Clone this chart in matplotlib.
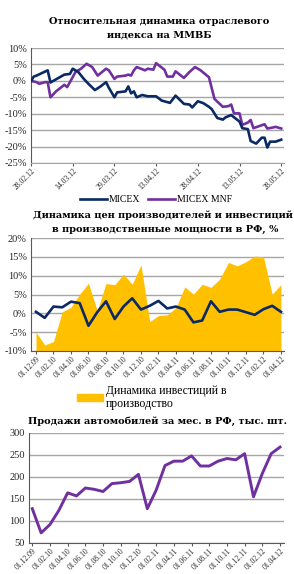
import datetime as dt
import matplotlib
matplotlib.use('Agg')
import matplotlib.pyplot as plt
import matplotlib.dates as mdates
from matplotlib.patches import Patch
from matplotlib.lines import Line2D

NAVY = '#0b2a63'
PURPLE = '#7030a0'
YELLOW = '#ffc000'
GRID = '#a6a6a6'
SPINE = '#595959'
TXT = '#262626'

plt.rcParams['font.family'] = ['Liberation Serif', 'DejaVu Serif']

# --- panel 1: MICEX vs MICEX MNF, % change since 28.02.12 ---
base_date = dt.date(2012, 2, 28)
micex_days = [0, 1, 2, 6, 7, 12, 14, 15, 17, 19, 21, 23, 25, 27, 28, 30, 31, 34, 35, 36,
              37, 38, 40, 42, 45, 47, 50, 52, 55, 57, 58, 60, 62, 64, 65, 67, 69, 70, 72,
              75, 76, 78, 79, 81, 83, 84, 85, 86, 88, 90]
micex_vals = [0, 1.3, 1.6, 3.2, -0.5, 1.9, 2.1, 3.7, 2.7, 0.6, -1.2, -2.8, -1.7, -0.4, -2.1,
              -5.0, -3.5, -3.2, -1.7, -3.8, -3.2, -5.0, -4.3, -4.7, -4.7, -6.0, -6.7, -4.5,
              -7.0, -7.2, -8.1, -6.2, -6.8, -7.9, -8.6, -11.3, -11.8, -11.1, -10.4, -12.4,
              -14.4, -14.7, -18.3, -19.1, -17.3, -17.3, -20.3, -18.5, -18.5, -17.9]
mnf_days = [0, 2, 3, 5, 6, 7, 9, 12, 13, 14, 16, 18, 20, 22, 24, 27, 28, 30, 31, 34, 35,
            36, 37, 38, 41, 42, 44, 45, 46, 48, 49, 51, 52, 55, 57, 59, 61, 64, 66, 69,
            71, 72, 73, 75, 76, 78, 79, 80, 84, 85, 87, 88, 90]
mnf_vals = [0, -0.4, -0.9, -0.4, -0.4, -5.0, -3.2, -1.2, -1.9, -0.4, 2.7, 3.7, 5.2, 4.2,
            1.6, 3.7, 3.2, 0.6, 1.3, 1.6, 1.9, 1.6, 3.2, 4.2, 3.2, 3.7, 3.4, 5.4, 4.7,
            3.4, 1.3, 1.3, 2.9, 0.9, 2.7, 4.2, 3.2, 1.1, -5.5, -7.9, -7.7, -7.2, -9.9,
            -9.9, -13.4, -12.7, -11.9, -14.4, -13.2, -14.5, -14.2, -14.0, -14.5]

# --- panel 2: producer prices vs investment, % ---
month_labels = ['01.12.09', '01.02.10', '01.04.10', '01.06.10', '01.08.10', '01.10.10',
                '01.12.10', '01.02.11', '01.04.11', '01.06.11', '01.08.11', '01.10.11',
                '01.12.11', '01.02.12', '01.04.12']
invest = [-5.0, -8.4, -7.5, 0.4, 1.6, 5.1, 8.0, 0.7, 7.9, 7.6, 10.4, 7.7, 12.9, -2.2,
          -0.6, -0.4, 1.5, 7.0, 5.1, 7.7, 6.9, 9.1, 13.5, 12.6, 13.7, 15.2, 15.0, 5.1, 7.6]
prices = [0.4, -1.2, 1.8, 1.6, 3.1, 2.7, -3.3, 0.3, 3.2, -1.5, 1.8, 4.0, 1.0, 2.0, 3.3,
          1.3, 1.8, 1.0, -2.4, -1.9, 3.2, 0.4, 1.0, 1.0, 0.3, -0.4, 1.1, 2.0, 0.4]

# --- panel 3: car sales per month, thousand units ---
car_sales = [128, 73, 92, 124, 164, 157, 175, 172, 167, 185, 187, 190, 206, 128, 170, 226,
             236, 236, 248, 225, 225, 236, 242, 239, 253, 155, 208, 253, 268]

W, H = 294, 574
fig = plt.figure(figsize=(W / 100, H / 100), dpi=100)
fig.patch.set_facecolor('white')


def box(left, top, right, bottom):
    return [left / W, 1 - bottom / H, (right - left) / W, (bottom - top) / H]


def style(ax):
    ax.set_facecolor('white')
    ax.grid(axis='y', color=GRID, lw=1.0)
    ax.set_axisbelow(True)
    for s in ('top', 'right'):
        ax.spines[s].set_visible(False)
    ax.spines['left'].set_color(SPINE)
    ax.spines['bottom'].set_color(SPINE)
    ax.tick_params(axis='y', length=0, labelsize=7.5, colors=TXT, pad=3)
    ax.tick_params(axis='x', length=2, labelsize=5.5, colors=TXT, pad=1, color=SPINE)


title_kw = dict(ha='center', va='center', fontsize=7, fontweight='bold',
                family=['DejaVu Serif'], color='black')

# panel 1
ax1 = fig.add_axes(box(31, 48, 284, 163))
style(ax1)
d1 = [base_date + dt.timedelta(days=d) for d in micex_days]
d2 = [base_date + dt.timedelta(days=d) for d in mnf_days]
ax1.plot(d2, mnf_vals, color=PURPLE, lw=1.9, label='MICEX MNF', zorder=3)
ax1.plot(d1, micex_vals, color=NAVY, lw=1.9, label='MICEX', zorder=4)
ax1.set_ylim(-25, 10)
ax1.set_yticks(range(-25, 11, 5))
ax1.set_yticklabels([f'{v}%' for v in range(-25, 11, 5)])
ax1.set_xlim(base_date, base_date + dt.timedelta(days=91))
ax1.set_xticks([base_date + dt.timedelta(days=15 * k) for k in range(7)])
ax1.xaxis.set_major_formatter(mdates.DateFormatter('%d.%m.%y'))
plt.setp(ax1.get_xticklabels(), rotation=45, ha='right', rotation_mode='anchor')
ax1.spines['bottom'].set_color(GRID)
fig.text(159 / W, 1 - 21 / H, 'Относительная динамика отраслевого', **title_kw)
fig.text(159 / W, 1 - 35 / H, 'индекса на ММВБ', **title_kw)
handles = [Line2D([], [], color=NAVY, lw=1.9), Line2D([], [], color=PURPLE, lw=1.9)]
fig.legend(handles, ['MICEX', 'MICEX MNF'], loc='center', ncol=2,
           bbox_to_anchor=(156 / W, 1 - 200 / H), frameon=False, fontsize=7,
           handlelength=2.8, handletextpad=0.2, columnspacing=0.8)

# panel 2
ax2 = fig.add_axes(box(31, 238, 284, 351))
style(ax2)
x2 = list(range(len(invest)))
ax2.fill_between(x2, invest, -10, color=YELLOW, lw=0, zorder=2)
ax2.plot(x2, prices, color=NAVY, lw=1.9, zorder=3)
ax2.set_ylim(-10, 20)
ax2.set_yticks(range(-10, 21, 5))
ax2.set_yticklabels([f'{v}%' for v in range(-10, 21, 5)])
ax2.set_xlim(-0.57, 28.35)
ax2.set_xticks(range(0, 29, 2))
ax2.set_xticklabels(month_labels, rotation=45, ha='right', rotation_mode='anchor')
fig.text(163 / W, 1 - 215 / H, 'Динамика цен производителей и инвестиций', **title_kw)
fig.text(165 / W, 1 - 229 / H, 'в производственные мощности в РФ, %', **title_kw)
fig.legend([Patch(color=YELLOW)], ['Динамика инвестиций в\nпроизводство'], loc='upper left',
           bbox_to_anchor=(66 / W, 1 - 374 / H), frameon=False, fontsize=8.5,
           handlelength=2.2, handleheight=0.55, handletextpad=0.25, labelspacing=0.2)

# panel 3
ax3 = fig.add_axes(box(29, 433, 284, 543))
style(ax3)
x3 = list(range(len(car_sales)))
ax3.plot(x3, car_sales, color=PURPLE, lw=2.1, zorder=3)
ax3.set_ylim(50, 300)
ax3.set_yticks(range(50, 301, 50))
ax3.set_xlim(-0.37, 28.45)
ax3.set_xticks(range(0, 29, 2))
ax3.set_xticklabels(month_labels, rotation=45, ha='right', rotation_mode='anchor')
fig.text(158 / W, 1 - 421 / H, 'Продажи автомобилей за мес. в РФ, тыс. шт.', **title_kw)

fig.savefig('out.png', dpi=100)
